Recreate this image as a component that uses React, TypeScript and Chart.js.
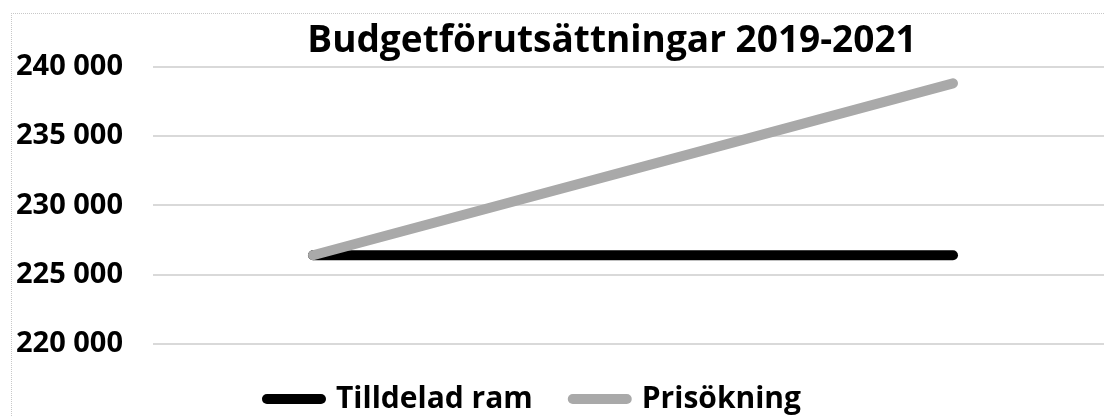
import React, { useEffect, useRef } from "react";
import { Chart, registerables } from "chart.js";

Chart.register(...registerables);

const categories = ["2019", "2020", "2021"];
const tilldeladRam = [226400, 226400, 226400];
const prisokning = [226400, 232600, 238800];
const yMin = 220000;
const yMax = 240000;
const yStep = 5000;
const chartTitle = "Budgetförutsättningar 2019-2021";
const seriesNames = ["Tilldelad ram", "Prisökning"];

const fmt = (v: number) => {
  const s = Math.round(v).toString();
  return s.replace(/\B(?=(\d{3})+(?!\d))/g, " ");
};

const legendShift = {
  id: "legendShift",
  afterLayout(chart: any) {
    const l = chart.legend;
    if (l) {
      l.left -= 78;
      l.right -= 78;
    }
  },
};

export default function App() {
  const ref = useRef<HTMLCanvasElement | null>(null);
  useEffect(() => {
    if (!ref.current) return;
    const font = "'Open Sans', 'DejaVu Sans', sans-serif";
    const chart = new Chart(ref.current, {
      type: "line",
      data: {
        labels: categories,
        datasets: [
          {
            label: seriesNames[0],
            data: tilldeladRam,
            borderColor: "#000000",
            backgroundColor: "#000000",
            borderWidth: 10,
            borderCapStyle: "round",
            pointRadius: 0,
            order: 1,
            yAxisID: "y",
          },
          {
            label: seriesNames[1],
            data: prisokning,
            borderColor: "#a9a9a9",
            backgroundColor: "#a9a9a9",
            borderWidth: 10,
            borderCapStyle: "round",
            pointRadius: 0,
            order: 0,
            yAxisID: "y",
          },
        ],
      },
      options: {
        animation: false,
        responsive: false,
        maintainAspectRatio: false,
        layout: { padding: { left: 4, top: 7, right: 0, bottom: 0 } },
        scales: {
          x: {
            display: false,
            offset: true,
          },
          y: {
            position: "left",
            min: yMin,
            max: yMax,
            ticks: {
              stepSize: yStep,
              crossAlign: "far",
              color: "#000",
              font: { family: font, size: 29, weight: "bold" },
              callback: (v: any) => fmt(Number(v)),
            },
            grid: { color: "#d9d9d9", lineWidth: 2, drawTicks: false },
            border: { display: false },
            afterFit: (s: any) => {
              s.width = 137;
            },
          },
          y2: {
            position: "right",
            min: yMin,
            max: yMax,
            ticks: { display: false },
            grid: { display: false, drawTicks: false },
            border: { display: false },
            afterFit: (s: any) => {
              s.width = 95;
            },
          },
        },
        plugins: {
          title: {
            display: true,
            text: chartTitle,
            color: "#000",
            font: { family: font, size: 37, weight: "bold", lineHeight: 1.1 },
            padding: { top: 0, bottom: 5 },
          },
          legend: {
            display: true,
            position: "bottom",
            labels: {
              usePointStyle: true,
              pointStyle: "line",
              pointStyleWidth: 54,
              padding: 40,
              color: "#000",
              font: { family: font, size: 30, weight: "bold" },
              sort: (a: any, b: any) => a.datasetIndex - b.datasetIndex,
              generateLabels: (c: any) =>
                Chart.defaults.plugins.legend.labels
                  .generateLabels(c)
                  .map((item: any) => ({ ...item, lineCap: "round" })),
            },
          },
          tooltip: { enabled: false },
        },
      },
      plugins: [legendShift],
    });
    return () => chart.destroy();
  }, []);

  return (
    <div
      style={{
        position: "fixed",
        left: 0,
        top: 0,
        width: 1104,
        height: 416,
        overflow: "hidden",
        background: "#fff",
      }}
    >
      <div
        style={{
          position: "absolute",
          left: 11,
          top: 13,
          width: 1200,
          height: 420,
          borderLeft: "1px dotted #c8c8c8",
          borderTop: "1px dotted #c8c8c8",
        }}
      >
        <canvas
          ref={ref}
          width={1196}
          height={410}
          style={{ display: "block", width: 1196, height: 410 }}
        />
      </div>
    </div>
  );
}
